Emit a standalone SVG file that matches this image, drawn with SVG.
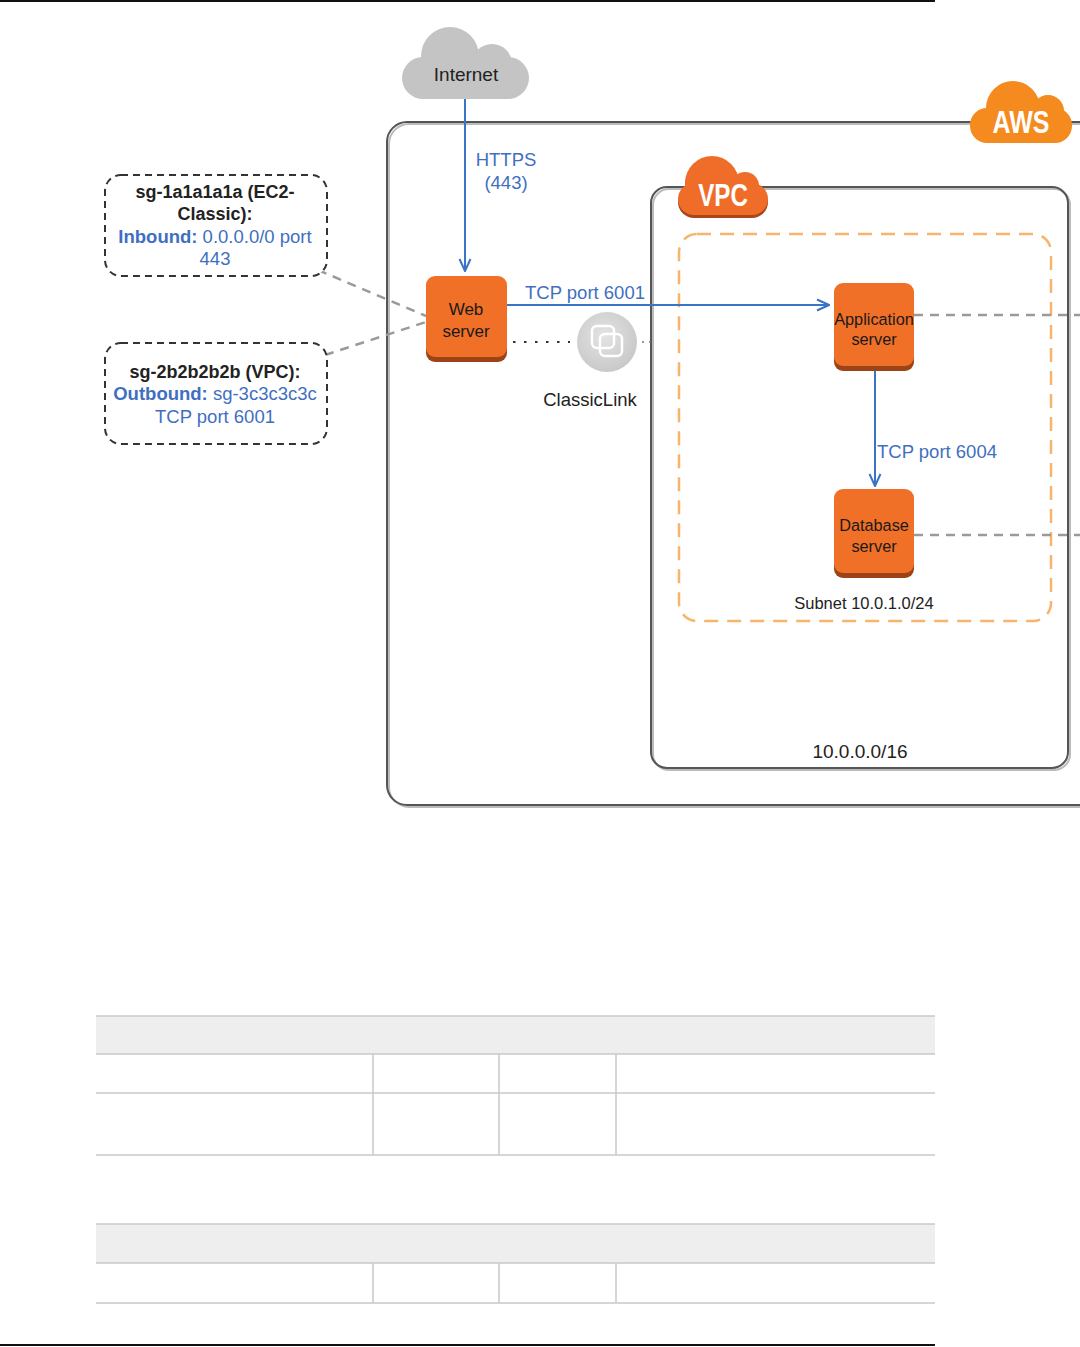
<svg xmlns="http://www.w3.org/2000/svg" width="1080" height="1347" viewBox="0 0 1080 1347">
<style>
text{font-family:"Liberation Sans",Arial,sans-serif;}
.lbl{font-size:18.5px;fill:#222;text-anchor:middle;}
.blue{fill:#3f6fbf;}
.bold{font-weight:bold;}
.node{fill:#f07028;}
.nodesh{fill:#9c4318;}
.ntx{font-size:17px;fill:#1a1a1a;text-anchor:middle;}
.sg{fill:#fff;stroke:#333;stroke-width:2;stroke-dasharray:7 5;}
.gdash{stroke:#9a9a9a;stroke-width:2.5;stroke-dasharray:9 7;fill:none;}
.flow{stroke:#3a74c6;stroke-width:2;fill:none;}
.tline{stroke:#c6cac8;stroke-width:1.5;}
</style>
<defs>
<marker id="ah" viewBox="0 0 14 14" refX="13" refY="7" markerWidth="14" markerHeight="14" markerUnits="userSpaceOnUse" orient="auto">
<path d="M1,1.5 L13,7 L1,12.5" fill="none" stroke="#3a74c6" stroke-width="2"/>
</marker>
<radialGradient id="cl" cx="0.45" cy="0.4" r="0.6">
<stop offset="0" stop-color="#e4e4e4"/><stop offset="1" stop-color="#c9c9c9"/>
</radialGradient>
</defs>
<rect width="1080" height="1347" fill="#fff"/>
<line x1="0" y1="1" x2="935" y2="1" stroke="#111" stroke-width="2"/>
<line x1="0" y1="1345" x2="935" y2="1345" stroke="#111" stroke-width="2"/>

<g id="aws-box">
<rect x="389" y="124" width="820" height="683" rx="20" fill="none" stroke="#bbb" stroke-width="2"/>
<rect x="387" y="122" width="820" height="683" rx="20" fill="none" stroke="#555" stroke-width="2"/>
</g>
<g id="vpc-box">
<rect x="653" y="189" width="417" height="581" rx="16" fill="none" stroke="#bbb" stroke-width="2"/>
<rect x="651" y="187" width="417" height="581" rx="16" fill="none" stroke="#555" stroke-width="2"/>
<text x="860" y="758" class="lbl" style="font-size:19px">10.0.0.0/16</text>
</g>
<g id="subnet">
<rect x="679" y="234" width="372" height="387" rx="18" fill="none" stroke="#f8b46a" stroke-width="2.5" stroke-dasharray="14 9"/>
<text x="864" y="609" class="lbl" style="font-size:16.5px">Subnet 10.0.1.0/24</text>
</g>

<g id="connectors">
<line x1="318" y1="270" x2="426" y2="316" class="gdash"/>
<line x1="325" y1="355" x2="426" y2="322" class="gdash"/>
<line x1="914" y1="315" x2="1080" y2="315" class="gdash"/>
<line x1="914" y1="535" x2="1080" y2="535" class="gdash"/>
<line x1="513" y1="342" x2="570" y2="342" stroke="#333" stroke-width="2" stroke-dasharray="2.5 8.5"/>
<line x1="642" y1="342" x2="651" y2="342" stroke="#777" stroke-width="1.5" stroke-dasharray="2 5"/>
<line x1="465" y1="99" x2="465" y2="271" class="flow" marker-end="url(#ah)"/>
<line x1="507" y1="305" x2="829" y2="305" class="flow" marker-end="url(#ah)"/>
<line x1="875" y1="364" x2="875" y2="486" class="flow" marker-end="url(#ah)"/>
<text x="506" y="166" class="lbl blue">HTTPS</text>
<text x="506" y="189" class="lbl blue">(443)</text>
<text x="585" y="299" class="lbl blue">TCP port 6001</text>
<text x="937" y="458" class="lbl blue">TCP port 6004</text>
</g>

<g id="internet">
<g fill="#c4c4c5">
<rect x="402" y="57" width="127" height="42" rx="21"/>
<circle cx="450" cy="56" r="29"/>
<circle cx="492" cy="64" r="20"/>
</g>
<text x="466" y="81" class="lbl" style="font-size:19px">Internet</text>
</g>

<g id="aws-cloud">
<g fill="#f58a1f">
<rect x="970" y="108" width="102" height="35" rx="17"/>
<circle cx="1013" cy="108" r="27"/>
<circle cx="1048" cy="111" r="16"/>
</g>
<text transform="translate(1021,133) scale(0.78,1)" style="font-size:32px;font-weight:bold;fill:#fff;text-anchor:middle">AWS</text>
</g>

<g id="vpc-cloud">
<g fill="#a8481a" transform="translate(0,3)">
<rect x="678" y="183" width="90" height="32" rx="16"/>
<circle cx="712" cy="183" r="27"/>
<circle cx="745" cy="186" r="14"/>
</g>
<g fill="#ef6d28">
<rect x="678" y="183" width="90" height="32" rx="16"/>
<circle cx="712" cy="183" r="27"/>
<circle cx="745" cy="186" r="14"/>
</g>
<text transform="translate(723,206) scale(0.78,1)" style="font-size:31px;font-weight:bold;fill:#fff;text-anchor:middle">VPC</text>
</g>

<g id="sg-1a">
<rect x="105" y="175" width="222" height="101" rx="16" class="sg"/>
<text x="215" y="198" class="lbl bold" style="font-size:18px">sg-1a1a1a1a (EC2-</text>
<text x="215" y="220" class="lbl bold" style="font-size:18px">Classic):</text>
<text x="215" y="243" class="lbl blue" style="font-size:18.5px"><tspan class="bold">Inbound:</tspan> 0.0.0.0/0 port</text>
<text x="215" y="265" class="lbl blue" style="font-size:18.5px">443</text>
</g>
<g id="sg-2b">
<rect x="105" y="343" width="222" height="101" rx="16" class="sg"/>
<text x="215" y="378" class="lbl bold" style="font-size:18px">sg-2b2b2b2b (VPC):</text>
<text x="215" y="400" class="lbl blue" style="font-size:18.5px"><tspan class="bold">Outbound:</tspan> sg-3c3c3c3c</text>
<text x="215" y="423" class="lbl blue" style="font-size:18.5px">TCP port 6001</text>
</g>

<g id="web-server">
<rect x="426" y="280" width="81" height="82" rx="9" class="nodesh"/>
<rect x="426" y="276" width="81" height="81" rx="9" class="node"/>
<text x="466" y="315" class="ntx">Web</text>
<text x="466" y="337" class="ntx">server</text>
</g>

<g id="classiclink">
<circle cx="607" cy="342" r="30" fill="url(#cl)"/>
<rect x="592" y="326" width="22" height="22" rx="5" fill="none" stroke="#fff" stroke-width="2.5"/>
<rect x="600" y="334" width="22" height="22" rx="5" fill="none" stroke="#fff" stroke-width="2.5"/>
<text x="590" y="406" class="lbl" style="font-size:18.5px">ClassicLink</text>
</g>

<g id="app-server">
<rect x="834" y="287" width="80" height="84" rx="9" class="nodesh"/>
<rect x="834" y="283" width="80" height="83" rx="9" class="node"/>
<text x="874" y="325" class="ntx" style="font-size:16.3px">Application</text>
<text x="874" y="345" class="ntx" style="font-size:16.3px">server</text>
</g>

<g id="db-server">
<rect x="834" y="493" width="80" height="85" rx="9" class="nodesh"/>
<rect x="834" y="489" width="80" height="84" rx="9" class="node"/>
<text x="874" y="531" class="ntx" style="font-size:16.3px">Database</text>
<text x="874" y="552" class="ntx" style="font-size:16.3px">server</text>
</g>

<g id="table-1">
<rect x="96" y="1016" width="839" height="38" fill="#eeeeee"/>
<line x1="96" y1="1016" x2="935" y2="1016" class="tline"/>
<line x1="96" y1="1054" x2="935" y2="1054" class="tline"/>
<line x1="96" y1="1093" x2="935" y2="1093" class="tline"/>
<line x1="96" y1="1155" x2="935" y2="1155" class="tline"/>
<line x1="373" y1="1054" x2="373" y2="1155" class="tline"/>
<line x1="499" y1="1054" x2="499" y2="1155" class="tline"/>
<line x1="616" y1="1054" x2="616" y2="1155" class="tline"/>
</g>
<g id="table-2">
<rect x="96" y="1224" width="839" height="39" fill="#eeeeee"/>
<line x1="96" y1="1224" x2="935" y2="1224" class="tline"/>
<line x1="96" y1="1263" x2="935" y2="1263" class="tline"/>
<line x1="96" y1="1303" x2="935" y2="1303" class="tline"/>
<line x1="373" y1="1263" x2="373" y2="1303" class="tline"/>
<line x1="499" y1="1263" x2="499" y2="1303" class="tline"/>
<line x1="616" y1="1263" x2="616" y2="1303" class="tline"/>
</g>
</svg>
